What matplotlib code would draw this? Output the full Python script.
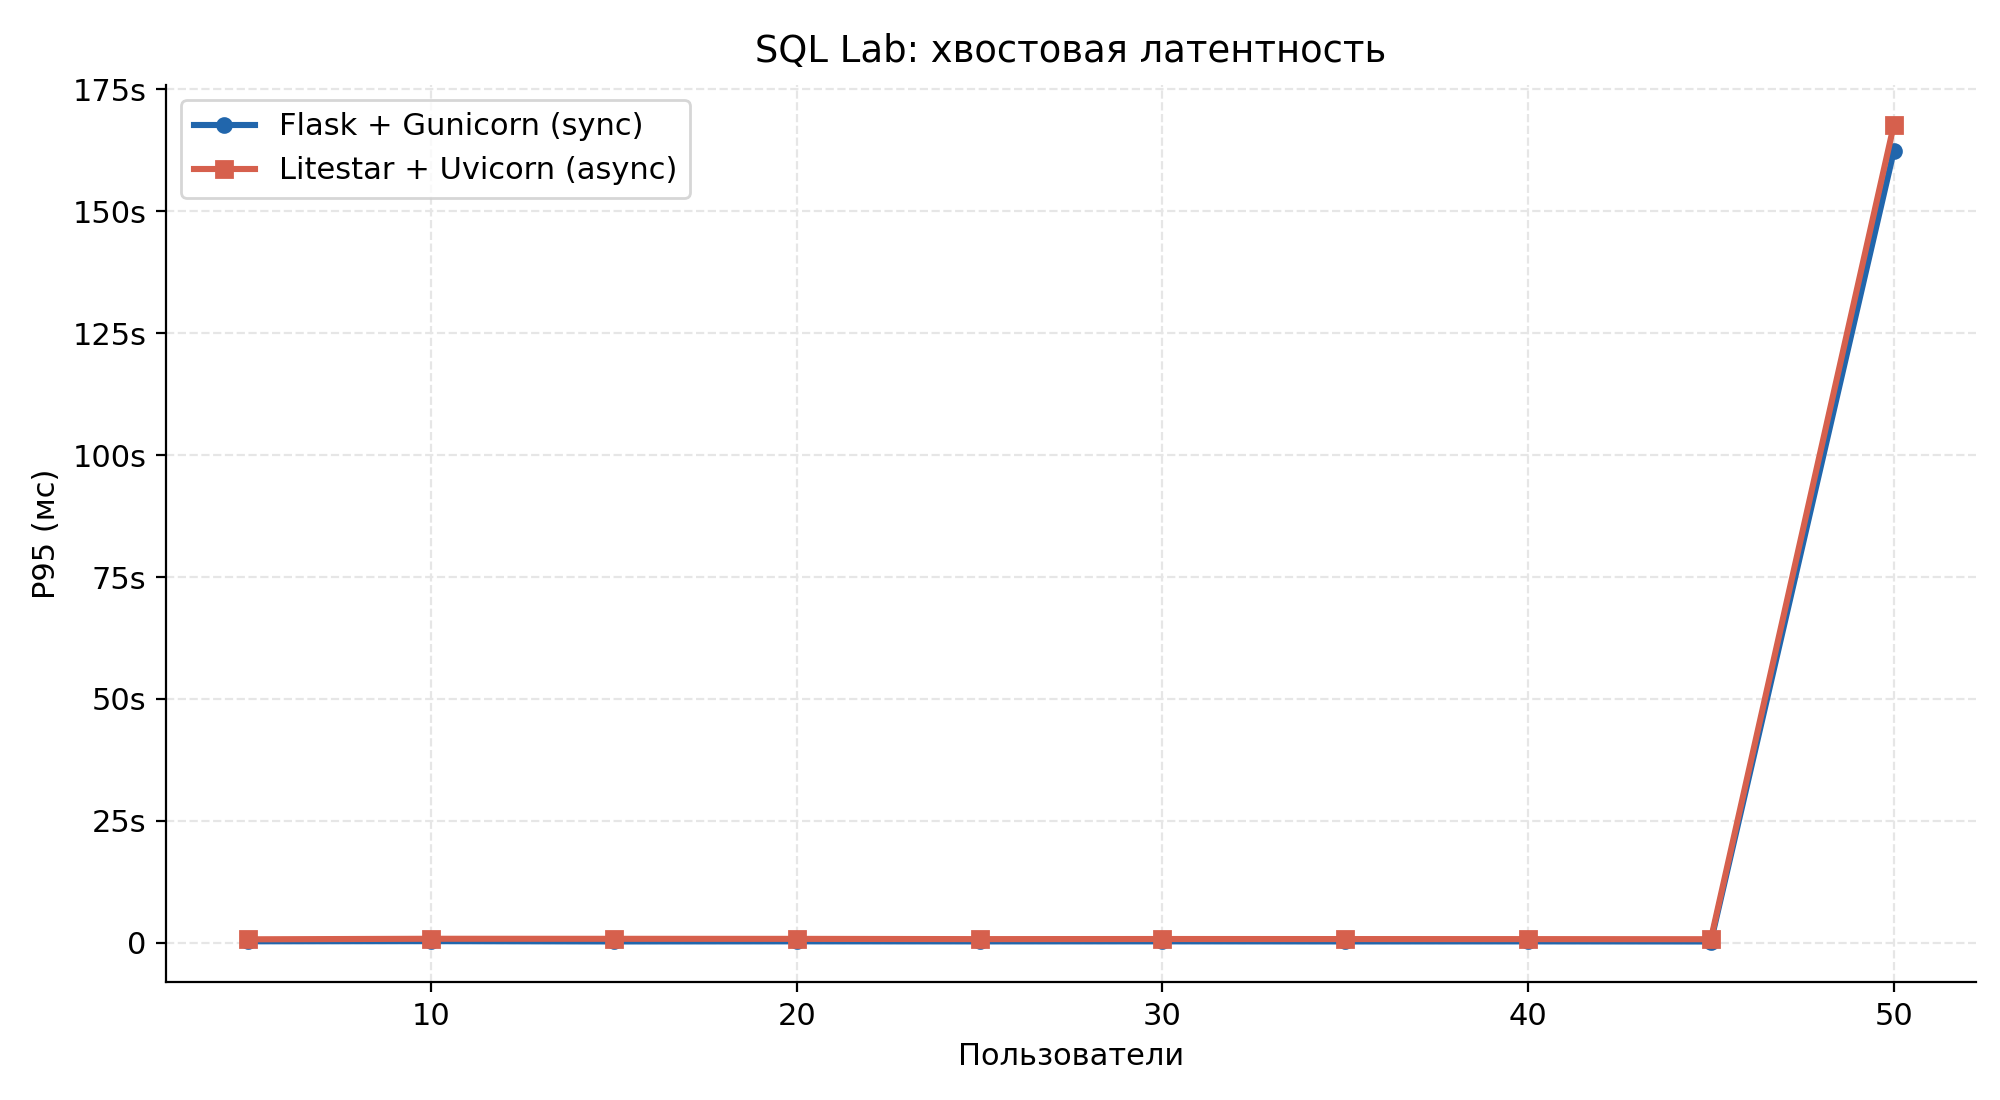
import matplotlib.pyplot as plt
from matplotlib.ticker import FuncFormatter, MultipleLocator

# Пользователи и P95 (мс)
users = [5, 10, 15, 20, 25, 30, 35, 40, 45, 50]
flask_p95 = [310, 340, 280, 300, 290, 300, 280, 290, 270, 162300]
litestar_p95 = [720, 830, 820, 810, 760, 780, 770, 760, 740, 167600]


def fmt_ms(v, pos):
    if abs(v) >= 1000:
        return f"{v / 1000:.0f}s"
    return f"{v:.0f}"


fig, ax = plt.subplots(figsize=(10, 5.5), dpi=200)

ax.plot(users, flask_p95, marker="o", markersize=5, linewidth=2.2,
        color="#2166ac", label="Flask + Gunicorn (sync)")
ax.plot(users, litestar_p95, marker="s", markersize=5.5, linewidth=2.2,
        color="#d6604d", label="Litestar + Uvicorn (async)")

ax.yaxis.set_major_locator(MultipleLocator(25000))
ax.yaxis.set_major_formatter(FuncFormatter(fmt_ms))

ax.set_title("SQL Lab: хвостовая латентность", fontsize=13.3, pad=8)
ax.set_xlabel("Пользователи", fontsize=11)
ax.set_ylabel("P95 (мс)", fontsize=11)
ax.tick_params(labelsize=11)

ax.grid(True, linestyle="--", color="#e6e6e6", linewidth=0.8)
ax.spines["top"].set_visible(False)
ax.spines["right"].set_visible(False)

ax.legend(loc="upper left", fontsize=11)

fig.subplots_adjust(left=0.083, right=0.988, top=0.923, bottom=0.107)
plt.savefig("out.png")
